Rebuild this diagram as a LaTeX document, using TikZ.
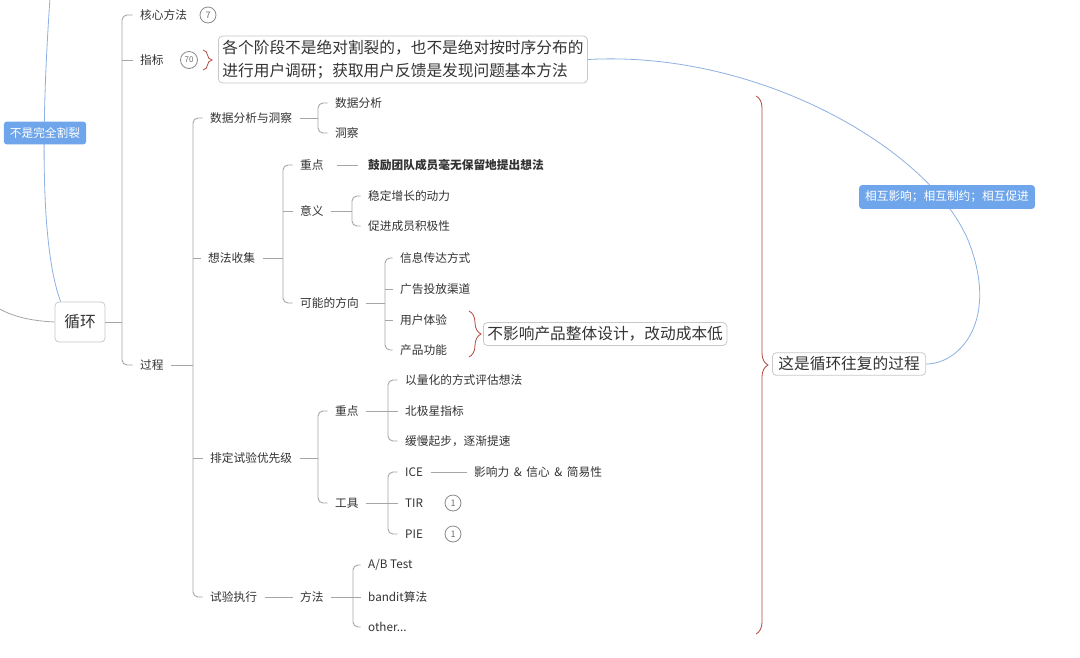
\documentclass[tikz,border=0pt]{standalone}
\usepackage{fontspec}
\setmainfont{Noto Sans CJK SC}
\usetikzlibrary{decorations.pathreplacing,calc}
\definecolor{txt}{HTML}{333333}
\definecolor{ln}{HTML}{A6A6A6}
\definecolor{bl}{HTML}{6FA6EB}
\definecolor{blc}{HTML}{8DB1E2}
\definecolor{brc}{HTML}{B5473E}
\definecolor{bxd}{HTML}{C8C8C8}
\definecolor{numc}{HTML}{8A8A8A}
\begin{document}
\begin{tikzpicture}[x=1pt,y=-1pt,
  lab/.style={anchor=west,inner xsep=7.5pt,inner ysep=2pt,text=txt,font=\fontsize{11.7}{14}\selectfont},
  con/.style={draw=ln,line width=0.9pt},
  brk/.style={draw=ln,line width=0.9pt,rounded corners=5pt},
  num/.style={circle,draw=numc,line width=0.8pt,text=numc!80!black,inner sep=0pt,minimum size=16pt,font=\fontsize{9}{10}\selectfont},
  bigbox/.style={draw=bxd,rounded corners=4pt,fill=white,text=txt,font=\fontsize{15.7}{23}\selectfont,line width=0.8pt,inner xsep=4pt,inner ysep=4pt},
  bluebox/.style={fill=bl,rounded corners=3pt,text=white,font=\fontsize{11.7}{14}\selectfont,inner xsep=6pt,inner ysep=6pt},
  rbrace/.style={draw=brc,line width=0.8pt,decorate,decoration={brace,amplitude=#1}},
  bcurve/.style={draw=blc,line width=0.8pt},
  gcurve/.style={draw=ln,line width=0.8pt}
]
\useasboundingbox (0,0) rectangle (1080,657);
\fill[white] (0,0) rectangle (1080,657);

% bracket spines
\coordinate (s0) at (122,0);
\coordinate (s1) at (193,0);
\coordinate (s2) at (318,0);
\coordinate (s3) at (283,0);
\coordinate (s4) at (352,0);
\coordinate (s5) at (385,0);
\coordinate (s6) at (318,0);
\coordinate (s7) at (388,0);
\coordinate (s8) at (388,0);
\coordinate (s9) at (353,0);

% root
\node[bigbox,minimum width=50pt,minimum height=40pt,inner sep=0pt] (root) at (80,322) {循环};

% level 1
\node[lab] (hx) at (132.5,15) {核心方法};
\node[num] (n7) at (208,15) {7};
\node[lab] (zb) at (132.5,60) {指标};
\node[num,minimum size=17pt,font=\fontsize{8}{9}\selectfont] (n70) at (189,60) {70};
\node[bigbox,anchor=west,align=left] (box1) at (218,59.5) {各个阶段不是绝对割裂的，也不是绝对按时序分布的\\进行用户调研；获取用户反馈是发现问题基本方法};
\node[lab] (gc) at (132.5,365) {过程};

% level 2
\node[lab] (sj) at (202.5,118) {数据分析与洞察};
\node[lab] (xf) at (200.5,258) {想法收集};
\node[lab] (pd) at (202.5,458) {排定试验优先级};
\node[lab] (sy) at (202.5,597) {试验执行};

% 数据分析与洞察
\node[lab] (sj1) at (327.5,103) {数据分析};
\node[lab] (sj2) at (327.5,133) {洞察};

% 想法收集
\node[lab] (zd1) at (292.5,165) {重点};
\node[lab,font=\fontsize{11.7}{14}\selectfont\bfseries] (gl) at (360.5,165) {鼓励团队成员毫无保留地提出想法};
\node[lab] (yy) at (292.5,211) {意义};
\node[lab] (yy1) at (360.5,196) {稳定增长的动力};
\node[lab] (yy2) at (360.5,226) {促进成员积极性};
\node[lab] (kn) at (292.5,303) {可能的方向};
\node[lab] (kn1) at (392.5,258) {信息传达方式};
\node[lab] (kn2) at (392.5,289) {广告投放渠道};
\node[lab] (kn3) at (392.5,320) {用户体验};
\node[lab] (kn4) at (392.5,350) {产品功能};
\node[bigbox,anchor=west] (box3) at (483,334) {不影响产品整体设计，改动成本低};

% 排定试验优先级
\node[lab] (zd2) at (327.5,411) {重点};
\node[lab] (zd21) at (397.5,380) {以量化的方式评估想法};
\node[lab] (zd22) at (397.5,411) {北极星指标};
\node[lab] (zd23) at (397.5,441) {缓慢起步，逐渐提速};
\node[lab] (gj) at (327.5,503) {工具};
\node[lab] (ice) at (397.5,472) {ICE};
\node[lab] (tir) at (397.5,503) {TIR};
\node[lab] (pie) at (397.5,534) {PIE};
\node[lab] (yx) at (466.5,472) {影响力 \,\&\, 信心 \,\&\, 简易性};
\node[num] (n1a) at (453,503) {1};
\node[num] (n1b) at (453,534) {1};

% 试验执行
\node[lab] (ff) at (292.5,597) {方法};
\node[lab] (ab) at (360.5,565) {A/B Test};
\node[lab] (bd) at (360.5,597) {bandit算法};
\node[lab] (ot) at (360.5,627) {other...};

\node[bigbox,anchor=west,inner xsep=6pt] (box2) at (772,364) {这是循环往复的过程};

% connectors: root
\draw[con] (root.east) -- (root.east -| s0);
\draw[brk] (hx.west) -- (hx.west -| s0) -- (gc.west -| s0) -- (gc.west);
\draw[con] (zb.west -| s0) -- (zb.west);

% 过程
\draw[con] (gc.east) -- (gc.east -| s1);
\draw[brk] (sj.west) -- (sj.west -| s1) -- (sy.west -| s1) -- (sy.west);
\draw[con] (xf.west -| s1) -- (xf.west);
\draw[con] (pd.west -| s1) -- (pd.west);

% 数据分析与洞察
\draw[con] (sj.east) -- (sj.east -| s2);
\draw[brk] (sj1.west) -- (sj1.west -| s2) -- (sj2.west -| s2) -- (sj2.west);

% 想法收集
\draw[con] (xf.east) -- (xf.east -| s3);
\draw[brk] (zd1.west) -- (zd1.west -| s3) -- (kn.west -| s3) -- (kn.west);
\draw[con] (yy.west -| s3) -- (yy.west);
\draw[con] ([xshift=6pt]zd1.east) -- ([xshift=-3pt]gl.west);
\draw[con] (yy.east) -- (yy.east -| s4);
\draw[brk] (yy1.west) -- (yy1.west -| s4) -- (yy2.west -| s4) -- (yy2.west);
\draw[con] (kn.east) -- (kn.east -| s5);
\draw[brk] (kn1.west) -- (kn1.west -| s5) -- (kn4.west -| s5) -- (kn4.west);
\draw[con] (kn2.west -| s5) -- (kn2.west);
\draw[con] (kn3.west -| s5) -- (kn3.west);

% 排定试验优先级
\draw[con] (pd.east) -- (pd.east -| s6);
\draw[brk] (zd2.west) -- (zd2.west -| s6) -- (gj.west -| s6) -- (gj.west);
\draw[con] (zd2.east) -- (zd2.east -| s7);
\draw[brk] (zd21.west) -- (zd21.west -| s7) -- (zd23.west -| s7) -- (zd23.west);
\draw[con] (zd22.west -| s7) -- (zd22.west);
\draw[con] (gj.east) -- (gj.east -| s8);
\draw[brk] (ice.west) -- (ice.west -| s8) -- (pie.west -| s8) -- (pie.west);
\draw[con] (tir.west -| s8) -- (tir.west);
\draw[con] (ice.east) -- (yx.west);

% 试验执行
\draw[con] (sy.east) -- (ff.west);
\draw[con] (ff.east) -- (ff.east -| s9);
\draw[brk] (ab.west) -- (ab.west -| s9) -- (ot.west -| s9) -- (ot.west);
\draw[con] (bd.west -| s9) -- (bd.west);

% braces
\draw[rbrace=9pt] (203,50) -- (203,70);
\draw[rbrace=12pt] (469,311) -- (469,357);
\draw[rbrace=12pt] (756,96) -- (756,634);

% curves
\coordinate (topend) at (50,-2);
\coordinate (leftend) at (-2,308);
\draw[bcurve] (topend) .. controls (43,100) and (38,240) .. ([xshift=6pt]root.north west);
\draw[gcurve] (leftend) .. controls (15,318) and (35,321) .. (root.west);
\draw[bcurve] (box1.east) .. controls (760,50) and (930,150) .. (968,240) .. controls (1000,320) and (960,364) .. (box2.east);

% labels on curves
\node[bluebox] (lb1) at (45,133) {不是完全割裂};
\node[bluebox] (lb2) at (947,197) {相互影响；相互制约；相互促进};
\end{tikzpicture}
\end{document}
